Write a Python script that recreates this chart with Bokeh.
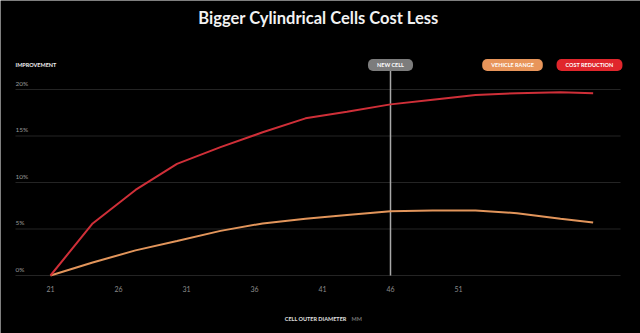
from bokeh.plotting import figure
from bokeh.models import Range1d, Label, ColumnDataSource
from bokeh.core.properties import value
from bokeh.embed import file_html
from bokeh.resources import INLINE

# ---- data ----
diameter_mm = [21.0, 24.1, 27.25, 30.3, 33.5, 36.6, 39.75, 42.8, 46.0, 49.1, 52.25, 55.3, 58.5, 60.9]
cost_reduction = [0.0, 5.6, 9.2, 12.0, 13.8, 15.4, 16.9, 17.6, 18.4, 18.9, 19.4, 19.6, 19.7, 19.6]
vehicle_range = [0.0, 1.4, 2.7, 3.7, 4.8, 5.6, 6.1, 6.5, 6.9, 7.0, 7.0, 6.7, 6.1, 5.7]
x_ticks = [21, 26, 31, 36, 41, 46, 51]
x_tick_labels = ["21", "26", "31", "36", "41", "46", "51"]
y_ticks = [0, 5, 10, 15, 20]
y_tick_labels = ["0%", "5%", "10%", "15%", "20%"]
new_cell_mm = 46
title_text = "Bigger Cylindrical Cells Cost Less"
y_title = "IMPROVEMENT"
x_title = "CELL OUTER DIAMETER"
x_unit = "MM"
series_names = ["VEHICLE RANGE", "COST REDUCTION"]

# ---- layout (pixels) ----
W, H = 640, 333
PX_PER_MM = 13.6
PX_PER_PCT = 9.3
X21_PX = 50
Y0_PX = 275
GRID_L, GRID_R = 15, 620


def px2x(px):
    return 21 + (px - X21_PX) / PX_PER_MM


def px2y(py):
    return (Y0_PX - py) / PX_PER_PCT


RED = "#cf2f38"
ORANGE = "#e2955b"
RED_PILL = "#e0262c"
ORANGE_PILL = "#e8955a"
GRAY_PILL = "#7c7c7c"
FONT = "Lato"

p = figure(width=W, height=H, output_backend="svg", toolbar_location=None,
           x_range=Range1d(px2x(0), px2x(W)), y_range=Range1d(px2y(H), px2y(0)),
           x_axis_location=None, y_axis_location=None,
           min_border=0)
p.background_fill_color = "black"
p.border_fill_color = "black"
p.outline_line_color = None
p.grid.visible = False

# horizontal gridlines
n = len(y_ticks)
p.segment(x0=[px2x(GRID_L)] * n, y0=y_ticks, x1=[px2x(GRID_R)] * n, y1=y_ticks,
          line_color="#242424", line_width=1)

# title
p.text(x=[px2x(318)], y=[px2y(17)], text=[title_text], text_font=value(FONT),
       text_font_size="16.5px", text_font_style="bold", text_color="#f2f2f2",
       text_align="center", text_baseline="middle")

# y tick labels above gridlines
src_y = ColumnDataSource(dict(x=[px2x(GRID_L)] * n, y=y_ticks, t=y_tick_labels))
p.text(x="x", y="y", text="t", source=src_y, text_font=value(FONT), text_font_size="6.5px",
       text_color="#9a9a9a", text_align="left", text_baseline="bottom", y_offset=-3)

p.text(x=[px2x(GRID_L)], y=[px2y(64)], text=[y_title], text_font=value(FONT), text_font_size="5.5px",
       text_font_style="bold", text_color="#f0f0f0", text_align="left", text_baseline="middle")

# x tick labels
src_x = ColumnDataSource(dict(x=x_ticks, y=[0] * len(x_ticks), t=x_tick_labels))
p.text(x="x", y="y", text="t", source=src_x, text_font=value(FONT), text_font_size="7px",
       text_color="#8a8a8a", text_align="center", text_baseline="middle", y_offset=13)

# x title
p.text(x=[px2x(346)], y=[px2y(318)], text=[x_title], text_font=value(FONT), text_font_size="5.5px",
       text_font_style="bold", text_color="#e0e0e0", text_align="right", text_baseline="middle")
p.text(x=[px2x(351)], y=[px2y(318)], text=[x_unit], text_font=value(FONT), text_font_size="5.5px",
       text_font_style="bold", text_color="#777777", text_align="left", text_baseline="middle")

# new cell marker
p.segment(x0=[new_cell_mm], y0=[0], x1=[new_cell_mm], y1=[px2y(70)], line_color="#a8a8a8", line_width=1.5)

# series
p.line(diameter_mm, vehicle_range, line_color=ORANGE, line_width=2)
p.line(diameter_mm, cost_reduction, line_color=RED, line_width=2)


# pills
def pill(x, text, color):
    p.add_layout(Label(x=x, y=px2y(64.5), text=text, text_align="center", text_baseline="middle",
                       text_font=FONT, text_font_size="5.5px", text_font_style="bold",
                       text_color="white", background_fill_color=color,
                       border_radius=5, padding=(9, 3)))


pill(new_cell_mm, "NEW CELL", GRAY_PILL)
pill(px2x(512), series_names[0], ORANGE_PILL)
pill(px2x(589), series_names[1], RED_PILL)

open("out.html", "w").write(file_html(p, INLINE))
